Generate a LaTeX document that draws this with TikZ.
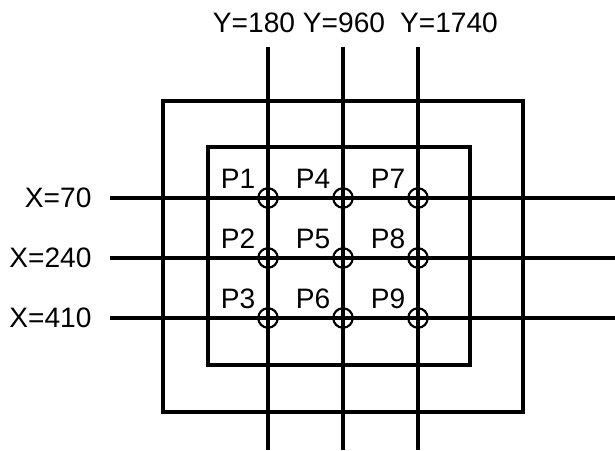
\documentclass[tikz,border=0pt]{standalone}
\usepackage{fontspec}
\setmainfont{Liberation Sans}
\usetikzlibrary{positioning}

\begin{document}
\begin{tikzpicture}[x=0.02cm, y=-0.02cm, line width=1.8pt, font=\fontsize{16}{19}\selectfont]
\tikzset{
  marker/.style={draw, circle, line width=1.2pt, minimum size=0.39cm, inner sep=0pt},
  plabel/.style={inner sep=0pt},
  axlabel/.style={inner sep=0pt}
}
\useasboundingbox (0,0) rectangle (615,450);

% frames
\draw (163,101) rectangle (523,412);
\draw (208,147) rectangle (470,365);

% grid line ends
\coordinate (v1top) at (268,47);  \coordinate (v1bot) at (268,450);
\coordinate (v2top) at (343,47);  \coordinate (v2bot) at (343,450);
\coordinate (v3top) at (418,47);  \coordinate (v3bot) at (418,450);
\coordinate (h1l) at (110,198);   \coordinate (h1r) at (615,198);
\coordinate (h2l) at (110,258);   \coordinate (h2r) at (615,258);
\coordinate (h3l) at (110,318);   \coordinate (h3r) at (615,318);

\draw (v1top) -- (v1bot);
\draw (v2top) -- (v2bot);
\draw (v3top) -- (v3bot);
\draw (h1l) -- (h1r);
\draw (h2l) -- (h2r);
\draw (h3l) -- (h3r);

% axis labels
\node[axlabel] (ylab1) at (254,23) {Y=180};
\node[axlabel] (ylab2) at (344,23) {Y=960};
\node[axlabel] (ylab3) at (449,23) {Y=1740};
\node[axlabel, left=0.34cm of h1l] (xlab1) {X=70};
\node[axlabel, left=0.34cm of h2l] (xlab2) {X=240};
\node[axlabel, left=0.34cm of h3l] (xlab3) {X=410};

% points
\node[marker] (p1) at (268,198) {};
\node[marker] (p2) at (268,258) {};
\node[marker] (p3) at (268,318) {};
\node[marker] (p4) at (343,198) {};
\node[marker] (p5) at (343,258) {};
\node[marker] (p6) at (343,318) {};
\node[marker] (p7) at (418,198) {};
\node[marker] (p8) at (418,258) {};
\node[marker] (p9) at (418,318) {};

\foreach \i in {1,...,9}
  \node[plabel, above left=0pt and 0.07cm of p\i] (lab\i) {P\i};

\end{tikzpicture}
\end{document}
